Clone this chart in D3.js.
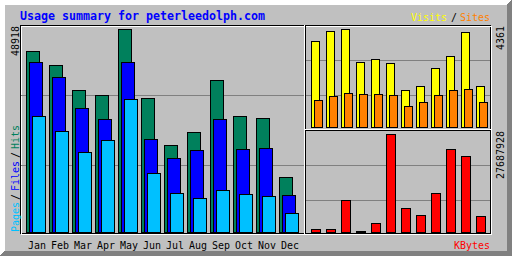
<!DOCTYPE html>
<html><head><meta charset="utf-8">
<script src="https://cdn.jsdelivr.net/npm/d3@7"></script>
<style>html,body{margin:0;padding:0;background:#c0c0c0}svg{display:block}</style>
</head><body><svg id="c" width="512" height="256"></svg>
<script>
const title = "Usage summary for peterleedolph.com";
const months = ["Jan","Feb","Mar","Apr","May","Jun","Jul","Aug","Sep","Oct","Nov","Dec"];
const hits   = [43616,40170,34148,32940,48918,32218,20890,24025,36556,27880,27399,13180];
const files  = [40891,37277,29807,27158,40891,22410,17760,19688,27230,19930,20170,8844];
const pages  = [27880,24265,19206,22097,31977,14145,9326,8120,10049,9085,8603,4506];
const visits = [3814,4259,4361,2879,3013,2835,1633,1811,2612,3146,4214,1811];
const sites  = [1188,1366,1500,1455,1455,1411,921,1099,1411,1633,1678,1099];
const kbytes = [762000,762000,8957000,200000,2458000,27687928,6695000,4718000,10934000,23365000,21387000,4436000];

const C = {grey:"#c0c0c0", dk:"#808080", white:"#ffffff", black:"#000000", title:"#0000ff",
  hits:"#00805c", files:"#0000ff", pages:"#00c0ff", visits:"#ffff00", sites:"#ff8000", kbytes:"#ff0000"};
const FONT = "'DejaVu Sans Mono', monospace";

const svg = d3.select("#c").attr("shape-rendering","crispEdges");
svg.append("rect").attr("width",512).attr("height",256).attr("fill",C.grey);

function px(x1,y1,x2,y2,color){ // gd line (axis aligned)
  svg.append("rect").attr("x",Math.min(x1,x2)).attr("y",Math.min(y1,y2))
    .attr("width",Math.abs(x2-x1)+1).attr("height",Math.abs(y2-y1)+1).attr("fill",color);
}
function outline(x1,y1,x2,y2,color){
  svg.append("rect").attr("x",x1+0.5).attr("y",y1+0.5).attr("width",x2-x1).attr("height",y2-y1)
    .attr("fill","none").attr("stroke",color);
}
function bar(x1,y1,x2,y2,fill){
  svg.append("rect").attr("x",x1).attr("y",y1).attr("width",x2-x1+1).attr("height",y2-y1+1).attr("fill",fill);
  outline(x1,y1,x2,y2,C.black);
}
function txt(s,x,y,color,opts={}){
  const t = svg.append("text").attr("x",x).attr("y",y).attr("fill",color)
    .attr("font-family",FONT).attr("font-size",opts.size||11)
    .attr("font-weight",opts.bold?"bold":"normal")
    .attr("textLength",s.length*(opts.cw||6)).attr("lengthAdjust","spacingAndGlyphs")
    .style("white-space","pre").text(s);
  if (opts.up) t.attr("x",0).attr("y",0).attr("transform",`translate(${x},${y}) rotate(-90)`);
  return t;
}

// shadow border
for (let i=0;i<5;i++){
  px(i,i,511-i,i,C.white);
  px(i,i,i,255-i,C.white);
  px(i,255-i,511-i,255-i,C.dk);
  px(511-i,i,511-i,255-i,C.dk);
}
outline(20,25,490,233,C.black);
outline(21,26,491,234,C.white);
px(305,25,305,233,C.black);
px(304,25,304,233,C.white);
px(305,130,490,130,C.black);
px(305,129,490,129,C.white);

// title
txt(title,20,20,C.title,{size:12,bold:true,cw:7});

// gridlines
[95,165].forEach(y=>px(21,y,303,y,C.dk));
[60,95].forEach(y=>px(306,y,489,y,C.dk));
[165,200].forEach(y=>px(306,y,489,y,C.dk));

// scales
const xMain = d3.scaleBand().domain(months).range([26,26+12*23]);
const xRight = d3.scaleBand().domain(months).range([311,311+12*15]);
const maxHits = d3.max(hits), maxVisits = d3.max(visits), maxK = d3.max(kbytes);
const yMain = d3.scaleLinear().domain([0,maxHits]).range([232,29]);
const yVis = d3.scaleLinear().domain([0,maxVisits]).range([127,29]);
const yK = d3.scaleLinear().domain([0,maxK]).range([232,134]);

months.forEach((m,i)=>{
  const x = xMain(m);
  if (hits[i]>0) bar(x, Math.floor(yMain(hits[i])), x+13, 232, C.hits);
  if (files[i]>0) bar(x+3, Math.floor(yMain(files[i])), x+16, 232, C.files);
  if (pages[i]>0) bar(x+6, Math.floor(yMain(pages[i])), x+19, 232, C.pages);
  const xr = xRight(m);
  if (visits[i]>0) bar(xr, Math.floor(yVis(visits[i])), xr+8, 127, C.visits);
  if (sites[i]>0) bar(xr+3, Math.floor(yVis(sites[i])), xr+11, 127, C.sites);
  if (kbytes[i]>0) bar(xr, Math.floor(yK(kbytes[i])), xr+9, 232, C.kbytes);
  txt(m, 28+i*23, 249, C.black);
});

// y labels
const lh = String(maxHits), lv = String(maxVisits), lk = String(maxK);
txt(lh, 19, 26+lh.length*6, C.black, {up:true});
txt(lv, 504, 26+lv.length*6, C.black, {up:true});
txt(lk, 504, 131+lk.length*6, C.black, {up:true});

// legends (left, vertical)
[["Pages",232,C.pages],["/",200,C.black],["Files",191,C.files],["/",158,C.black],["Hits",149,C.hits]]
  .forEach(([s,y,c])=>txt(s,19,y,c,{up:true}));
// legends (top right)
[["Visits",411,C.visits],["/",451,C.black],["Sites",460,C.sites]]
  .forEach(([s,x,c])=>txt(s,x,21,c));

txt("KBytes", 454, 249, C.kbytes);
</script></body></html>
